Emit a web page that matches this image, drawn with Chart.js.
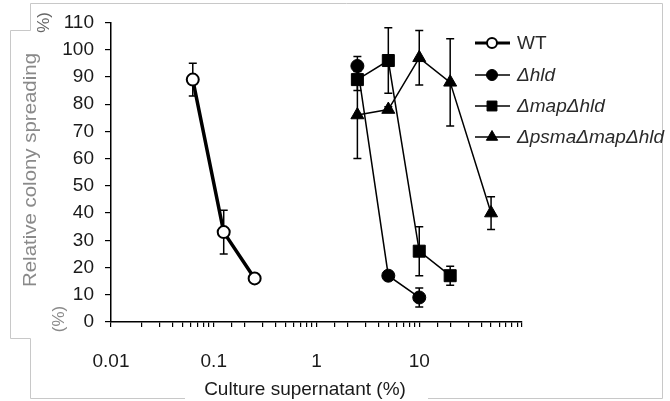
<!DOCTYPE html>
<html><head><meta charset="utf-8">
<style>html,body{margin:0;padding:0;background:#fff;}#wrap{width:670px;height:401px;}</style>
<script src="https://cdn.jsdelivr.net/npm/chart.js@4.4.1/dist/chart.umd.min.js"></script>
</head><body><div id="wrap"><canvas id="c" width="670" height="401"></canvas></div>
<script>
// ---- data ----
const xTickLabels = ['0.01', '0.1', '1', '10'];
const yTickValues = [0, 10, 20, 30, 40, 50, 60, 70, 80, 90, 100, 110];
const seriesNames = ['WT', 'Δhld', 'ΔmapΔhld', 'ΔpsmaΔmapΔhld'];
const xTitle = 'Culture supernatant (%)';
const yTitle = 'Relative colony spreading';
const yUnit = '(%)';

const wtX = [0.0625, 0.125, 0.25];
const wtY = [89, 33, 16];
const wtErr = [6, 8, 1];

const hldX = [2.5, 5, 10];
const hldY = [94, 17, 9];
const hldErr = [3.5, 1, 3.5];

const mapX = [2.5, 5, 10, 20];
const mapY = [89, 96, 26, 17];
const mapErr = [4, 12, 9, 3.5];

const psmaX = [2.5, 5, 10, 20, 50];
const psmaY = [76, 78, 97, 88, 40];
const psmaErr = [16, 1, 10, 16, 6];

// ---- build ----
const FONT = "'Liberation Sans', Arial, sans-serif";
const pts = (xs, ys) => xs.map((x, i) => ({x: x, y: ys[i]}));

const styles = [
  {pointStyle: 'circle', radius: 6, bg: '#ffffff', bw: 2, lw: 3.5},
  {pointStyle: 'circle', radius: 6.5, bg: '#000000', bw: 1, lw: 1.5},
  {pointStyle: 'rect', radius: 8.5, bg: '#000000', bw: 1, lw: 1.5},
  {pointStyle: 'triangle', radius: 7.5, bg: '#000000', bw: 1, lw: 1.5}
];
const allX = [wtX, hldX, mapX, psmaX];
const allY = [wtY, hldY, mapY, psmaY];
const allErr = [wtErr, hldErr, mapErr, psmaErr];

const datasets = seriesNames.map((name, i) => ({
  label: name,
  data: pts(allX[i], allY[i]),
  errors: allErr[i],
  showLine: true,
  borderColor: '#000',
  borderWidth: styles[i].lw,
  tension: 0,
  pointStyle: styles[i].pointStyle,
  pointRadius: styles[i].radius,
  pointHoverRadius: styles[i].radius,
  pointBackgroundColor: styles[i].bg,
  pointBorderColor: '#000',
  pointBorderWidth: styles[i].bw,
  clip: false
}));

const errorBars = {
  id: 'errorBars',
  beforeDatasetsDraw(chart) {
    const ctx = chart.ctx, xs = chart.scales.x, ys = chart.scales.y;
    ctx.save();
    ctx.strokeStyle = '#000';
    ctx.lineWidth = 1.5;
    chart.data.datasets.forEach(ds => {
      ds.data.forEach((p, j) => {
        const e = ds.errors[j];
        const px = xs.getPixelForValue(p.x);
        const t = ys.getPixelForValue(p.y + e), b = ys.getPixelForValue(p.y - e);
        ctx.beginPath();
        ctx.moveTo(px, t); ctx.lineTo(px, b);
        ctx.moveTo(px - 4, t); ctx.lineTo(px + 4, t);
        ctx.moveTo(px - 4, b); ctx.lineTo(px + 4, b);
        ctx.stroke();
      });
    });
    ctx.restore();
  }
};

function marker(ctx, style, x, y, r, bg, bw) {
  ctx.beginPath();
  if (style === 'circle') {
    ctx.arc(x, y, r, 0, Math.PI * 2);
  } else if (style === 'rect') {
    const s = r * Math.SQRT1_2;
    ctx.rect(x - s, y - s, 2 * s, 2 * s);
  } else {
    const h = r * 1.5, w = r * Math.sqrt(3) / 2;
    ctx.moveTo(x, y - r);
    ctx.lineTo(x + w, y + r / 2);
    ctx.lineTo(x - w, y + r / 2);
    ctx.closePath();
  }
  ctx.fillStyle = bg; ctx.fill();
  ctx.lineWidth = bw; ctx.strokeStyle = '#000'; ctx.stroke();
}

const decor = {
  id: 'decor',
  beforeDraw(chart) {
    const ctx = chart.ctx;
    ctx.save();
    ctx.fillStyle = '#fff';
    ctx.fillRect(0, 0, chart.width, chart.height);
    ctx.strokeStyle = '#c8c8c8';
    ctx.lineWidth = 1;
    ctx.beginPath();
    ctx.moveTo(185, 398.5); ctx.lineTo(30.5, 398.5); ctx.lineTo(30.5, 338.5);
    ctx.lineTo(10.5, 338.5); ctx.lineTo(10.5, 30.5); ctx.lineTo(30.5, 30.5);
    ctx.lineTo(30.5, 3.5); ctx.lineTo(662.5, 3.5); ctx.lineTo(662.5, 398.5); ctx.lineTo(428, 398.5);
    ctx.stroke();
    ctx.restore();
  },
  afterDraw(chart) {
    const ctx = chart.ctx;
    ctx.save();
    // x title
    ctx.fillStyle = '#1a1a1a';
    ctx.font = '19px ' + FONT;
    ctx.textAlign = 'center';
    ctx.textBaseline = 'middle';
    ctx.fillText(xTitle, 305, 390);
    // y title
    ctx.fillStyle = '#8a8a8a';
    ctx.save();
    ctx.translate(31, 170);
    ctx.rotate(-Math.PI / 2);
    ctx.font = '19px ' + FONT;
    const w = ctx.measureText(yTitle).width;
    ctx.scale(234 / w, 1);
    ctx.fillText(yTitle, 0, 0);
    ctx.restore();
    ctx.save();
    ctx.translate(59, 319);
    ctx.rotate(-Math.PI / 2);
    ctx.font = '17px ' + FONT;
    ctx.fillText(yUnit, 0, 0);
    ctx.restore();
    ctx.save();
    ctx.translate(44, 21);
    ctx.rotate(-Math.PI / 2);
    ctx.font = '17px ' + FONT;
    ctx.fillStyle = '#666';
    ctx.textAlign = 'right';
    ctx.fillText('%)', 9, 0);
    ctx.restore();
    // legend
    const rows = [43, 75, 106, 137];
    const legR = [5, 5.5, 7, 6.5];
    seriesNames.forEach((name, i) => {
      const y = rows[i];
      ctx.strokeStyle = '#000';
      ctx.lineWidth = i === 0 ? 3 : 1.5;
      ctx.beginPath(); ctx.moveTo(475, y); ctx.lineTo(510, y); ctx.stroke();
      marker(ctx, styles[i].pointStyle, 492, y, legR[i], styles[i].bg, i === 0 ? 2 : 1);
      ctx.fillStyle = '#2a2a2a';
      ctx.font = (i === 0 ? '' : 'italic ') + '19px ' + FONT;
      ctx.textAlign = 'left';
      ctx.textBaseline = 'middle';
      ctx.fillText(name, 517, y + 1);
    });
    ctx.restore();
  }
};

new Chart(document.getElementById('c'), {
  type: 'line',
  data: {datasets: datasets},
  plugins: [decor, errorBars],
  options: {
    responsive: false,
    animation: false,
    devicePixelRatio: 1,
    layout: {padding: {left: 0, top: 20, right: 148, bottom: 0}},
    plugins: {legend: {display: false}, tooltip: {enabled: false}},
    scales: {
      x: {
        type: 'logarithmic',
        min: 0.01, max: 100,
        afterFit: s => { s.height = 79; },
        border: {display: true, color: '#000', width: 1.5},
        grid: {drawOnChartArea: false, drawTicks: true, tickLength: 5, color: '#000', lineWidth: 1.2},
        ticks: {
          autoSkip: false, maxRotation: 0, padding: 23, color: '#1a1a1a',
          font: {family: FONT, size: 19},
          callback: (v) => {
            const l = Math.log10(v), r = Math.round(l);
            if (Math.abs(l - r) < 1e-6 && r + 2 >= 0 && r + 2 < xTickLabels.length) return xTickLabels[r + 2];
            return '';
          }
        }
      },
      y: {
        type: 'linear',
        min: 0, max: 110,
        afterFit: s => { s.width = 111; },
        afterBuildTicks: s => { s.ticks = yTickValues.map(v => ({value: v})); },
        border: {display: true, color: '#000', width: 1.5},
        grid: {drawOnChartArea: false, drawTicks: true, tickLength: 6, color: '#000', lineWidth: 1.2},
        ticks: {padding: 11, color: '#1a1a1a', font: {family: FONT, size: 19}}
      }
    }
  }
});
</script>
</body></html>
